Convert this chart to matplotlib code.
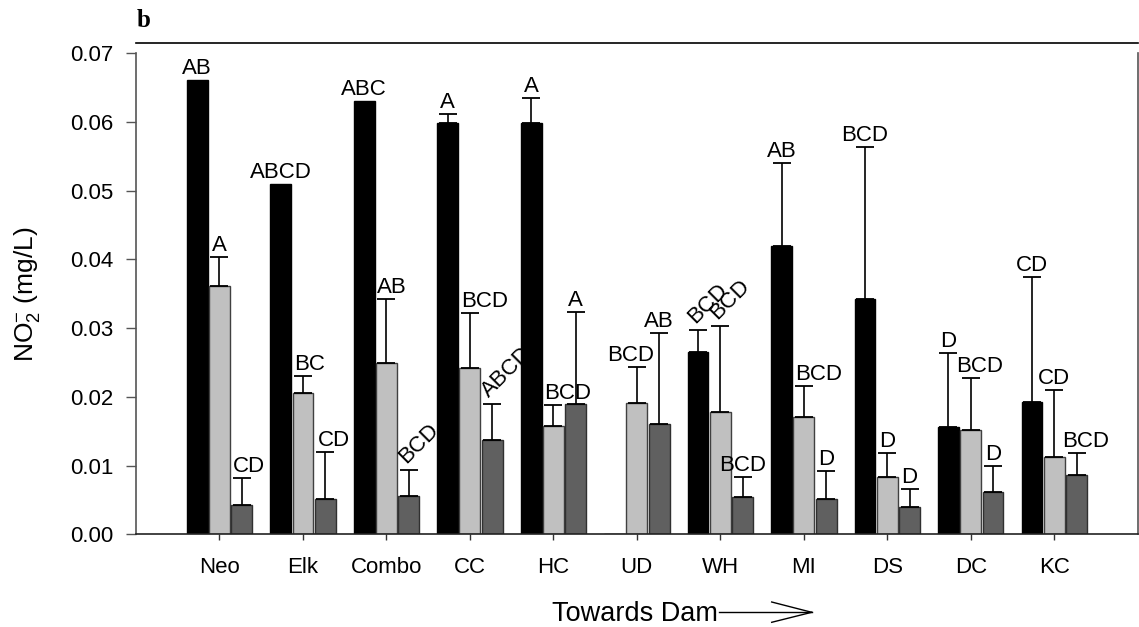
import numpy as np
import matplotlib
matplotlib.use('Agg')
import matplotlib.pyplot as plt
from matplotlib.lines import Line2D

plt.rcParams['font.family'] = ['Liberation Sans', 'DejaVu Sans']
plt.rcParams['mathtext.fontset'] = 'custom'
plt.rcParams['mathtext.rm'] = 'Liberation Sans'
plt.rcParams['mathtext.it'] = 'Liberation Sans:italic'

# sites, upstream -> dam
sites = ['Neo', 'Elk', 'Combo', 'CC', 'HC', 'UD', 'WH', 'MI', 'DS', 'DC', 'KC']

# three series (black / light gray / dark gray), mean and upper error
black_mean = [0.0661, 0.0510, 0.0631, 0.0598, 0.0598, 0.0, 0.0266, 0.0419, 0.0343, 0.0156, 0.0193]
black_err = [np.nan, np.nan, np.nan, 0.0013, 0.0037, np.nan, 0.0032, 0.0122, 0.0220, 0.0108, 0.0181]
black_lab = ['AB', 'ABCD', 'ABC', 'A', 'A', '', 'BCD', 'AB', 'BCD', 'D', 'CD']

gray_mean = [0.0362, 0.0205, 0.0250, 0.0242, 0.0158, 0.0191, 0.0178, 0.0170, 0.0084, 0.0152, 0.0113]
gray_err = [0.0042, 0.0025, 0.0092, 0.0080, 0.0030, 0.0052, 0.0125, 0.0046, 0.0035, 0.0076, 0.0097]
gray_lab = ['A', 'BC', 'AB', 'BCD', 'BCD', 'BCD', 'BCD', 'BCD', 'D', 'BCD', 'CD']

dark_mean = [0.0042, 0.0051, 0.0056, 0.0137, 0.0189, 0.0161, 0.0054, 0.0052, 0.0040, 0.0061, 0.0087]
dark_err = [0.0040, 0.0069, 0.0038, 0.0052, 0.0134, 0.0132, 0.0029, 0.0040, 0.0026, 0.0038, 0.0031]
dark_lab = ['CD', 'CD', 'BCD', 'ABCD', 'A', 'AB', 'BCD', 'D', 'D', 'D', 'BCD']

# sideways nudge of letter labels (pixels) so they clear neighbouring bars
black_nudge = [0] * 11
gray_nudge = [0, 7, 5, 15, 14, -6, 0, 15, 0, 8.5, 0]
dark_nudge = [7, 9, 0, 0, 0, 0, 0, 0, 0, 0, 9]

# which letter labels are drawn at 45 degrees (series, site index)
rotated = {('black', 6), ('gray', 6), ('dark', 2), ('dark', 3)}

W, H = 1139, 627
fig = plt.figure(figsize=(W / 100, H / 100), dpi=100)
ax = fig.add_axes([136 / W, 1 - 534.3 / H, (1137.7 - 136) / W, (534.3 - 53.3) / H])

x = np.arange(1, len(sites) + 1)
bw = 0.25
off = 0.267

series = [
    ('black', black_mean, black_err, black_lab, black_nudge, -off, 'black', 'black'),
    ('gray', gray_mean, gray_err, gray_lab, gray_nudge, 0.0, '#c0c0c0', '#404040'),
    ('dark', dark_mean, dark_err, dark_lab, dark_nudge, off, '#606060', '#303030'),
]

for name, mean, err, lab, nudge, dx, fc, ec in series:
    mean = np.array(mean)
    err = np.array(err)
    xs = x + dx
    ax.bar(xs, mean, width=bw, color=fc, edgecolor=ec, linewidth=1, zorder=2)
    ok = ~np.isnan(err)
    ax.errorbar(xs[ok], mean[ok], yerr=[np.zeros(ok.sum()), err[ok]], fmt='none',
                ecolor='black', elinewidth=1.2, capsize=6.5, capthick=1.3, zorder=3)
    top = np.where(ok, mean + np.nan_to_num(err), mean)
    for i in range(len(sites)):
        if not lab[i]:
            continue
        if (name, i) in rotated:
            ax.annotate(lab[i], (xs[i], top[i]), xytext=(-3, 6), textcoords='offset pixels',
                        rotation=45, rotation_mode='anchor', ha='left', va='baseline',
                        fontsize=16, zorder=4)
        else:
            ax.annotate(lab[i], (xs[i], top[i]), xytext=(nudge[i], 6), textcoords='offset pixels',
                        ha='center', va='baseline', fontsize=16, zorder=4)

ax.set_xlim(0, 12)
ax.set_ylim(0, 0.07)
ax.set_yticks(np.arange(0, 0.0701, 0.01))
ax.set_yticklabels(['%.2f' % v for v in np.arange(0, 0.0701, 0.01)])
ax.set_xticks(x)
ax.set_xticklabels(sites)
ax.tick_params(axis='y', length=7.2, width=1, color='#555555', pad=9, labelsize=16)
ax.tick_params(axis='x', length=4, width=1, color='#333333', pad=12, labelsize=16)

ax.spines['top'].set_visible(False)
for s in ['left', 'right']:
    ax.spines[s].set_color('#555555')
    ax.spines[s].set_linewidth(1.2)
ax.spines['bottom'].set_color('#222222')
ax.spines['bottom'].set_linewidth(1.2)

# frame line above the plot
ax.plot([0, 1], [1.0208, 1.0208], transform=ax.transAxes, color='black', lw=1.2, clip_on=False)

fig.text(137 / W, 1 - 27 / H, 'b', family='Liberation Serif', weight='bold', fontsize=18,
         ha='left', va='baseline')
fig.text(27 / W, 1 - 294 / H, r'NO$_2^{-}$ (mg/L)', rotation=90, ha='center', va='center', fontsize=19)
fig.text(551.7 / W, 1 - 621 / H, 'Towards Dam', ha='left', va='baseline', fontsize=19.5)

# arrow after "Towards Dam"
def px(xp, yp):
    return xp / W, 1 - yp / H

for (x0, y0), (x1, y1) in [((719, 612.3), (811.7, 612.3)),
                           ((771.7, 602), (811.7, 612.3)),
                           ((771.7, 622.3), (811.7, 612.3))]:
    a, b = px(x0, y0)
    c, d = px(x1, y1)
    fig.add_artist(Line2D([a, c], [b, d], transform=fig.transFigure, color='black', lw=1))

fig.savefig('out.png', dpi=100)
